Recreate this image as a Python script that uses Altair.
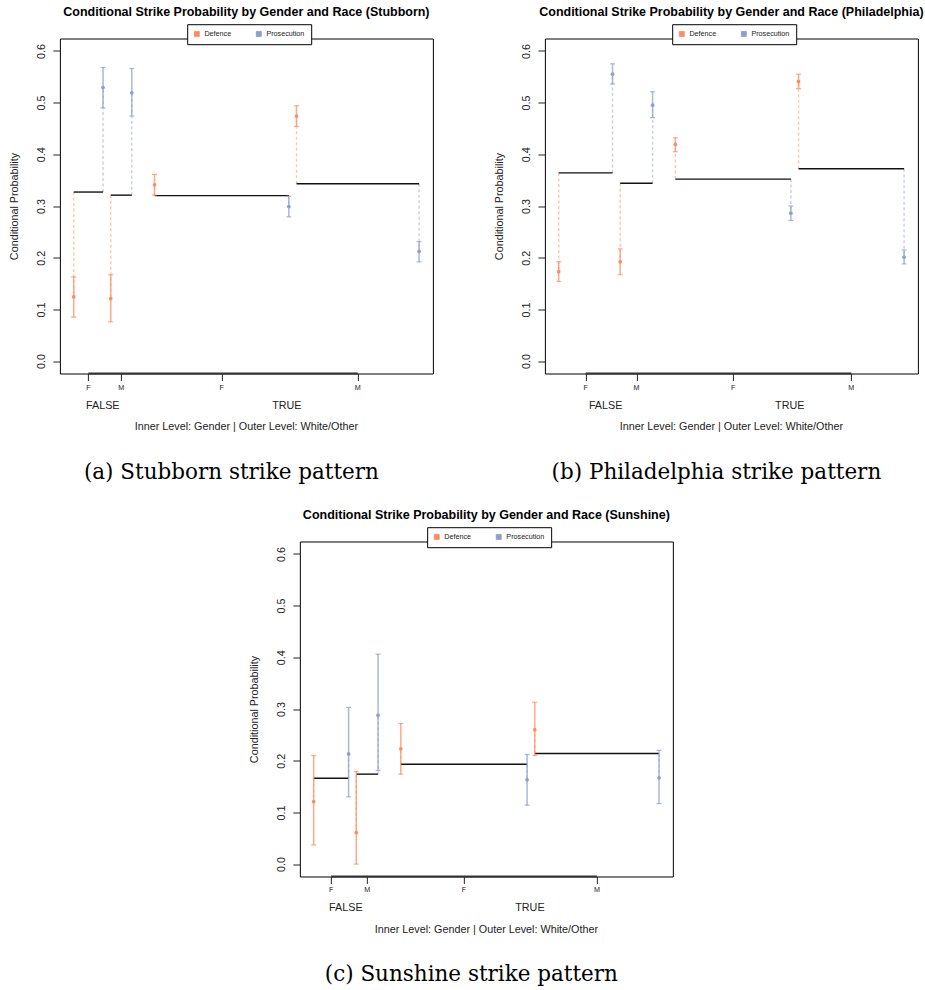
import altair as alt
import pandas as pd

# Outer level (White/Other) and inner level (Gender) for the four cells
outer = ["FALSE", "FALSE", "TRUE", "TRUE"]
gender = ["F", "M", "F", "M"]
parties = ["Defence", "Prosecution"]
party_colors = ["#FC8D62", "#8DA0CB"]

# Stubborn
stub_share = [0.0955, 0.0685, 0.4371, 0.3989]
stub_base = [0.327, 0.321, 0.320, 0.343]
stub_def = [0.124, 0.121, 0.341, 0.474]
stub_def_lo = [0.085, 0.076, 0.321, 0.454]
stub_def_hi = [0.163, 0.167, 0.361, 0.494]
stub_pro = [0.529, 0.519, 0.299, 0.212]
stub_pro_lo = [0.490, 0.474, 0.279, 0.192]
stub_pro_hi = [0.568, 0.566, 0.319, 0.231]

# Philadelphia
phil_share = [0.1751, 0.1055, 0.3760, 0.3434]
phil_base = [0.364, 0.344, 0.352, 0.372]
phil_def = [0.173, 0.192, 0.419, 0.541]
phil_def_lo = [0.154, 0.167, 0.405, 0.527]
phil_def_hi = [0.192, 0.217, 0.432, 0.555]
phil_pro = [0.555, 0.495, 0.286, 0.201]
phil_pro_lo = [0.536, 0.471, 0.272, 0.188]
phil_pro_hi = [0.575, 0.521, 0.300, 0.215]

# Sunshine
sun_share = [0.1137, 0.0709, 0.4110, 0.4044]
sun_base = [0.166, 0.174, 0.193, 0.214]
sun_def = [0.121, 0.061, 0.223, 0.260]
sun_def_lo = [0.037, 0.000, 0.174, 0.210]
sun_def_hi = [0.210, 0.179, 0.272, 0.313]
sun_pro = [0.213, 0.288, 0.163, 0.167]
sun_pro_lo = [0.130, 0.181, 0.114, 0.117]
sun_pro_hi = [0.303, 0.406, 0.212, 0.220]

W, H = 373, 335
INNER_GAP, OUTER_GAP = 0.025, 0.074
FONT = "Liberation Sans"
INK = "#222"
X_TITLE = "Inner Level: Gender | Outer Level: White/Other"
Y_TITLE = "Conditional Probability"


def panel(site, caption, share, base, d, dlo, dhi, p, plo, phi, right_margin=0):
    lefts, rights = [], []
    pos = 0.0
    for i, s in enumerate(share):
        if i > 0:
            pos += INNER_GAP if outer[i] == outer[i - 1] else OUTER_GAP
        lefts.append(pos)
        pos += s
        rights.append(pos)
    span = pos
    mids = [(l + r) / 2 for l, r in zip(lefts, rights)]

    xs = alt.Scale(domain=[-0.04 * span, 1.04 * span], nice=False, zero=False)
    ys = alt.Scale(domain=[-0.024, 0.624], nice=False, zero=False)
    cs = alt.Scale(domain=parties, range=party_colors)

    xax = alt.Axis(values=mids, labels=False, domain=False, grid=False,
                   ticks=True, tickSize=7, tickColor=INK, tickWidth=1)
    yax = alt.Axis(values=[0, 0.1, 0.2, 0.3, 0.4, 0.5, 0.6], format=".1f",
                   domain=False, grid=False, tickSize=7, tickColor=INK, tickWidth=1,
                   labelAngle=270, labelAlign="center", labelBaseline="middle",
                   labelPadding=11, labelFontSize=10.8, labelColor=INK,
                   labelFont=FONT, labelOverlap=False,
                   titleFont=FONT, titleFontSize=10.8, titleFontWeight="normal",
                   titleColor=INK, titleAngle=270, titleAlign="center",
                   titleBaseline="middle", titleX=-45, titleY=H / 2)
    leg = alt.Legend(title=None, orient="none", legendX=127.3, legendY=-14.3,
                     direction="horizontal", symbolType="square",
                     symbolSize=25, symbolStrokeColor="black",
                     symbolStrokeWidth=0.8, symbolOpacity=1,
                     labelFontSize=7.2, labelFont=FONT, labelColor=INK,
                     labelOffset=4, columnPadding=23, padding=6,
                     fillColor="white", strokeColor="black")

    def X(field):
        return alt.X(field, scale=xs, axis=xax, title=None)

    def Y(field):
        return alt.Y(field, scale=ys, axis=yax, title=Y_TITLE)

    col = alt.Color("party:N", scale=cs, legend=leg)

    cells = pd.DataFrame({"outer": outer, "gender": gender, "left": lefts,
                          "right": rights, "mid": mids, "base": base})
    rows = []
    for i in range(len(outer)):
        rows.append({"party": "Defence", "x": lefts[i], "p": d[i],
                     "lo": dlo[i], "hi": dhi[i], "base": base[i]})
        rows.append({"party": "Prosecution", "x": rights[i], "p": p[i],
                     "lo": plo[i], "hi": phi[i], "base": base[i]})
    pts = pd.DataFrame(rows)
    groups = cells.groupby("outer", as_index=False).agg(l=("left", "min"), r=("right", "max"))
    groups["mid"] = (groups["l"] + groups["r"]) / 2
    axis_line = pd.DataFrame({"x1": [mids[0]], "x2": [mids[-1]]})

    connectors = alt.Chart(pts).mark_rule(strokeDash=[3, 2.5], strokeWidth=1.4, opacity=0.5).encode(
        x=X("x:Q"), y=Y("base:Q"), y2="p:Q", color=col)
    baselines = alt.Chart(cells).mark_rule(color="#111", strokeWidth=1.4).encode(
        x=X("left:Q"), x2="right:Q", y=Y("base:Q"))
    bars = alt.Chart(pts).mark_rule(strokeWidth=1.5, opacity=0.75).encode(
        x=X("x:Q"), y=Y("lo:Q"), y2="hi:Q", color=col)
    caps_lo = alt.Chart(pts).mark_tick(orient="horizontal", size=5, thickness=1.2, opacity=0.75).encode(
        x=X("x:Q"), y=Y("lo:Q"), color=col)
    caps_hi = alt.Chart(pts).mark_tick(orient="horizontal", size=5, thickness=1.2, opacity=0.75).encode(
        x=X("x:Q"), y=Y("hi:Q"), color=col)
    points = alt.Chart(pts).mark_circle(size=14, opacity=1).encode(
        x=X("x:Q"), y=Y("p:Q"), color=col)
    xline = alt.Chart(axis_line).mark_rule(color="#333", strokeWidth=2).encode(
        x=X("x1:Q"), x2="x2:Q", y=alt.value(H))
    inner_lab = alt.Chart(cells).mark_text(font=FONT, fontSize=7.2, color=INK, baseline="middle").encode(
        x=X("mid:Q"), y=alt.value(H + 14), text="gender:N")
    outer_lab = alt.Chart(groups).mark_text(font=FONT, fontSize=10.8, color=INK, baseline="middle").encode(
        x=X("mid:Q"), y=alt.value(H + 32), text="outer:N")
    xtitle = alt.Chart(pd.DataFrame({"t": [X_TITLE]})).mark_text(
        font=FONT, fontSize=10.8, color=INK, baseline="middle").encode(
        x=alt.value(W / 2), y=alt.value(H + 53.5), text="t:N")
    title = alt.Chart(pd.DataFrame({"t": [f"Conditional Strike Probability by Gender and Race ({site})"]})).mark_text(
        font=FONT, fontSize=12.5, fontWeight="bold", color="black", baseline="middle").encode(
        x=alt.value(W / 2), y=alt.value(-26.6), text="t:N")
    cap = alt.Chart(pd.DataFrame({"t": [caption]})).mark_text(
        font="DejaVu Serif", fontSize=21.5, color="black", baseline="alphabetic").encode(
        x=alt.value(W / 2 - 15), y=alt.value(H + 105), text="t:N")

    layers = [connectors, baselines, bars, caps_lo, caps_hi, points,
              xline, inner_lab, outer_lab, xtitle, title, cap]
    if right_margin:
        # blank margin to the right of the panel, used when centring it under the top row
        layers.append(alt.Chart(axis_line).mark_rule(strokeOpacity=0).encode(
            x=alt.value(W + right_margin), y=alt.value(0), y2=alt.value(H)))
    return alt.layer(*layers).properties(width=W, height=H)


pa = panel("Stubborn", "(a) Stubborn strike pattern", stub_share, stub_base,
           stub_def, stub_def_lo, stub_def_hi, stub_pro, stub_pro_lo, stub_pro_hi)
pb = panel("Philadelphia", "(b) Philadelphia strike pattern", phil_share, phil_base,
           phil_def, phil_def_lo, phil_def_hi, phil_pro, phil_pro_lo, phil_pro_hi)
pc = panel("Sunshine", "(c) Sunshine strike pattern", sun_share, sun_base,
           sun_def, sun_def_lo, sun_def_hi, sun_pro, sun_pro_lo, sun_pro_hi, right_margin=11)

top = alt.hconcat(pa, pb, spacing=59).resolve_scale(
    color="independent", x="independent", y="independent").resolve_legend(color="independent")
chart = alt.vconcat(top, pc, spacing=24, center=True).resolve_scale(
    color="independent", x="independent", y="independent").resolve_legend(color="independent")

chart = chart.properties(padding={"left": 7.6, "top": 4.5, "right": 0, "bottom": 0}).configure(
    font=FONT).configure_view(stroke="black", strokeWidth=1)

chart.save("out.html", embed_options={"renderer": "svg", "actions": False})
